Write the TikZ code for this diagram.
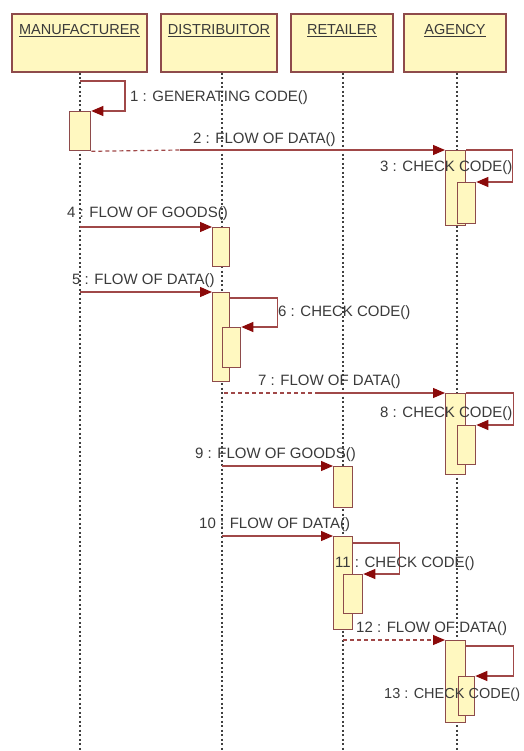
\documentclass[tikz,border=0pt]{standalone}
\usepackage{fontspec}
\setmainfont{Liberation Sans}
\usetikzlibrary{arrows.meta,calc}
\definecolor{boxfill}{HTML}{FFF8C0}
\definecolor{boxdraw}{HTML}{8E4B4B}
\definecolor{msgcol}{HTML}{A04848}
\definecolor{headcol}{HTML}{8B0A0A}
\definecolor{txtcol}{HTML}{3A3A3A}
\definecolor{lifecol}{HTML}{404040}
\begin{document}
\begin{tikzpicture}[x=1pt,y=-1pt,
  head/.style={draw=boxdraw,fill=boxfill,line width=1.4pt,inner sep=0pt},
  htext/.style={anchor=base,text=txtcol,font=\fontsize{14.5}{17}\selectfont,inner sep=0pt},
  act/.style={draw=boxdraw,fill=boxfill,line width=1.3pt,inner sep=0pt,anchor=north west},
  lifeline/.style={draw=lifecol,line width=1.5pt,dash pattern=on 2pt off 2.5pt},
  msg/.style={draw=msgcol,line width=1.1pt,-{Triangle[length=12pt,width=10pt,color=headcol]}},
  msgdash/.style={draw=msgcol,line width=1.2pt,dash pattern=on 4pt off 3pt},
  lbl/.style={anchor=base west,text=txtcol,font=\fontsize{15}{18}\selectfont,inner sep=0pt}]
\useasboundingbox (0,0) rectangle (523,751);
% headers
\node[head,minimum width=135pt,minimum height=58pt] (hM) at (79.5,43) {};
\node[head,minimum width=116pt,minimum height=58pt] (hD) at (219,43) {};
\node[head,minimum width=102pt,minimum height=58pt] (hR) at (342,43) {};
\node[head,minimum width=102pt,minimum height=58pt] (hA) at (455,43) {};
\node[htext] (tM) at (79.5,35) {\underline{MANUFACTURER}};
\node[htext] (tD) at (219,35) {\underline{DISTRIBUITOR}};
\node[htext] (tR) at (342,35) {\underline{RETAILER}};
\node[htext] (tA) at (455,35) {\underline{AGENCY}};
% lifelines
\coordinate (xM) at (80,751);
\coordinate (xD) at (222,751);
\coordinate (xR) at (343,751);
\coordinate (xA) at (457,751);
\draw[lifeline] (hM.south -| xM) -- (xM);
\draw[lifeline] (hD.south -| xD) -- (xD);
\draw[lifeline] (hR.south -| xR) -- (xR);
\draw[lifeline] (hA.south -| xA) -- (xA);
% activations
\node[act,minimum width=21pt,minimum height=39pt] (a1) at (69,111) {};
\node[act,minimum width=20pt,minimum height=75pt] (a3) at (445,150) {};
\node[act,minimum width=18pt,minimum height=41pt] (a3n) at (457,182) {};
\node[act,minimum width=17pt,minimum height=39pt] (a4) at (212,227) {};
\node[act,minimum width=17pt,minimum height=89pt] (a5) at (212,292) {};
\node[act,minimum width=18pt,minimum height=40pt] (a6n) at (222,327) {};
\node[act,minimum width=20pt,minimum height=81pt] (a7) at (445,393) {};
\node[act,minimum width=18pt,minimum height=39pt] (a8n) at (457,425) {};
\node[act,minimum width=19pt,minimum height=41pt] (a9) at (333,466) {};
\node[act,minimum width=19pt,minimum height=93pt] (a10) at (333,536) {};
\node[act,minimum width=19pt,minimum height=39pt] (a11n) at (343,574) {};
\node[act,minimum width=20pt,minimum height=82pt] (a12) at (445,640) {};
\node[act,minimum width=16pt,minimum height=39pt] (a13n) at (458,676) {};
% message coordinates
\coordinate (m1s) at (80,81);
\coordinate (m2mid) at (180,150);
\coordinate (m4s) at (80,227);
\coordinate (m5s) at (80,292);
\coordinate (m7s) at (224,393);
\coordinate (m7mid) at (317,393);
\coordinate (m9s) at (222,466);
\coordinate (m10s) at (222,536);
\coordinate (m12s) at (343,640);
% messages
\draw[msg] (m1s) -- ++(45,0) |- (a1.north east);
\draw[msgdash] (a1.south east) -- (m2mid);
\draw[msg] (m2mid) -- (a3.north west);
\draw[msg] (a3.north east) -- ++(46,0) |- (a3n.north east);
\draw[msg] (m4s) -- (a4.north west);
\draw[msg] (m5s) -- (a5.north west);
\draw[msg] ($(a5.north east)+(0,6)$) -- ++(47,0) |- (a6n.north east);
\draw[msgdash] (m7s) -- (m7mid);
\draw[msg] (m7mid) -- (a7.north west);
\draw[msg] (a7.north east) -- ++(47,0) |- (a8n.north east);
\draw[msg] (m9s) -- (a9.north west);
\draw[msg] (m10s) -- (a10.north west);
\draw[msg] ($(a10.north east)+(0,7)$) -- ++(46,0) |- (a11n.north east);
\draw[msgdash,-{Triangle[length=12pt,width=10pt,color=headcol]}] (m12s) -- (a12.north west);
\draw[msg] ($(a12.north east)+(0,6)$) -- ++(47,0) |- (a13n.north east);
% labels
\node[lbl] (l1) at (130,102) {1 : GENERATING CODE()};
\node[lbl] (l2) at (193,144) {2 : FLOW OF DATA()};
\node[lbl] (l3) at (380,172) {3 : CHECK CODE()};
\node[lbl] (l4) at (67,218) {4 : FLOW OF GOODS()};
\node[lbl] (l5) at (72,284) {5 : FLOW OF DATA()};
\node[lbl] (l6) at (278,316) {6 : CHECK CODE()};
\node[lbl] (l7) at (258,385) {7 : FLOW OF DATA()};
\node[lbl] (l8) at (380,417) {8 : CHECK CODE()};
\node[lbl] (l9) at (195,458) {9 : FLOW OF GOODS()};
\node[lbl] (l10) at (199,528) {10 : FLOW OF DATA()};
\node[lbl] (l11) at (335,567) {11 : CHECK CODE()};
\node[lbl] (l12) at (356,632) {12 : FLOW OF DATA()};
\node[lbl,font=\fontsize{14.5}{17}\selectfont] (l13) at (384,698) {13 : CHECK CODE()};
\end{tikzpicture}
\end{document}
